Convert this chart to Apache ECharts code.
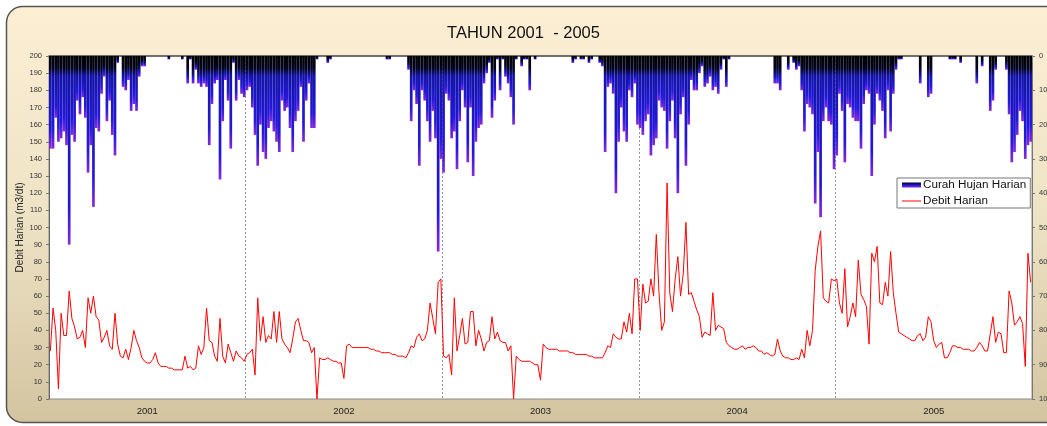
<!DOCTYPE html>
<html>
<head>
<meta charset="utf-8">
<script src="https://cdn.jsdelivr.net/npm/echarts@6/dist/echarts.min.js"></script>
<style>
  html, body { margin: 0; padding: 0; background: #ffffff; }
  #chart { width: 1047px; height: 426px; }
</style>
</head>
<body>
<div id="chart"></div>
<script>
// ---- DATA (5-day bins, 73 bins per year, 2001-2005) ----
const titleText = 'TAHUN 2001  - 2005';
const years = ['2001', '2002', '2003', '2004', '2005'];
const leftAxisName = 'Debit Harian (m3/dt)';
const rainName = 'Curah Hujan Harian';
const debitName = 'Debit Harian';

// Debit Harian (m3/dt), left axis
const debit = [
  28, 53, 40, 6, 50, 37, 37, 63, 47, 42,
  35, 36, 40, 30, 59, 50, 60, 48, 46, 33,
  36, 40, 31, 29, 50, 32, 25, 24, 29, 23,
  30, 40, 34, 30, 24, 22, 21, 21, 23, 27,
  21, 19, 19, 19, 18, 18, 17, 17, 17, 17,
  25, 18, 19, 17, 18, 31, 26, 30, 53, 34,
  33, 25, 22, 47, 25, 21, 32, 27, 22, 28,
  25, 24, 22, 26, 27, 29, 14, 59, 34, 48,
  33, 37, 35, 51, 33, 51, 35, 32, 30, 27,
  35, 45, 47, 40, 34, 34, 33, 27, 30, 0,
  24, 23, 23, 24, 23, 22, 22, 21, 21, 12,
  31, 32, 30, 30, 30, 30, 30, 30, 30, 29,
  29, 28, 28, 27, 27, 27, 27, 26, 26, 25,
  25, 25, 24, 27, 31, 30, 36, 38, 34, 35,
  40, 56, 47, 38, 68, 70, 25, 24, 26, 14,
  59, 28, 37, 47, 32, 33, 51, 51, 31, 40,
  35, 28, 33, 34, 48, 35, 39, 34, 33, 33,
  28, 31, 0, 25, 23, 22, 22, 22, 22, 21,
  20, 20, 11, 32, 30, 29, 29, 29, 29, 28,
  28, 28, 28, 27, 27, 26, 26, 26, 26, 26,
  25, 25, 24, 24, 24, 24, 27, 31, 30, 38,
  36, 35, 35, 45, 39, 50, 38, 70, 70, 40,
  67, 56, 57, 70, 60, 96, 62, 40, 45, 126,
  62, 51, 70, 83, 60, 73, 103, 61, 62, 57,
  52, 48, 36, 39, 38, 37, 62, 40, 43, 42,
  41, 33, 31, 30, 29, 29, 30, 31, 29, 30,
  30, 31, 30, 28, 28, 26, 27, 26, 25, 26,
  35, 28, 25, 24, 24, 23, 23, 24, 23, 29,
  24, 40, 31, 40, 75, 89, 98, 59, 57, 56,
  70, 69, 70, 56, 50, 76, 42, 48, 56, 48,
  81, 61, 58, 54, 32, 85, 80, 89, 56, 55,
  68, 60, 86, 62, 50, 39, 38, 37, 36, 35,
  34, 34, 37, 38, 34, 36, 48, 45, 34, 30,
  32, 33, 24, 24, 27, 31, 31, 30, 30, 29,
  29, 29, 28, 28, 30, 33, 31, 28, 28, 38,
  48, 33, 39, 38, 27, 27, 63, 56, 43, 45,
  48, 44, 19, 85, 68
];

// Curah Hujan Harian (mm), right axis (inverted)
const rain = [
  27, 27, 18, 25, 24, 22, 26, 55, 23, 25,
  13, 17, 12, 18, 34, 26, 44, 21, 22, 11,
  6, 19, 13, 23, 29, 2, 0, 9, 10, 7,
  16, 14, 16, 6, 3, 3, 0, 0, 0, 0,
  0, 0, 0, 0, 1, 0, 0, 0, 0, 1,
  0, 8, 1, 8, 4, 8, 9, 8, 9, 26,
  14, 8, 7, 36, 19, 7, 13, 27, 2, 13,
  7, 11, 12, 10, 9, 15, 23, 32, 20, 28,
  30, 21, 19, 22, 25, 28, 13, 16, 15, 21,
  28, 19, 16, 9, 25, 13, 8, 21, 21, 1,
  0, 0, 0, 2, 1, 0, 0, 0, 0, 0,
  0, 0, 0, 0, 0, 0, 0, 0, 0, 0,
  0, 0, 0, 0, 0, 1, 1, 0, 0, 0,
  0, 0, 0, 4, 19, 10, 14, 32, 10, 13,
  19, 25, 16, 24, 57, 30, 34, 11, 13, 24,
  22, 33, 19, 10, 15, 31, 15, 35, 25, 21,
  20, 8, 5, 2, 18, 13, 1, 10, 1, 6,
  8, 12, 20, 1, 0, 3, 1, 1, 10, 0,
  1, 0, 0, 0, 0, 0, 0, 0, 0, 0,
  0, 0, 0, 0, 2, 1, 0, 1, 1, 0,
  2, 1, 0, 0, 2, 3, 28, 9, 8, 11,
  40, 25, 15, 22, 25, 10, 12, 8, 20, 21,
  23, 19, 17, 29, 26, 24, 13, 15, 16, 27,
  19, 13, 24, 40, 17, 12, 32, 20, 7, 10,
  10, 5, 3, 9, 8, 6, 10, 9, 11, 4,
  1, 9, 1, 0, 0, 0, 0, 0, 0, 0,
  0, 0, 0, 0, 0, 0, 0, 0, 0, 8,
  8, 10, 0, 0, 4, 0, 2, 4, 3, 10,
  22, 14, 15, 17, 43, 28, 47, 19, 15, 19,
  20, 33, 29, 11, 16, 31, 14, 15, 18, 19,
  19, 27, 14, 10, 11, 35, 20, 11, 13, 16,
  24, 10, 22, 11, 4, 1, 1, 0, 0, 0,
  0, 0, 0, 8, 0, 0, 12, 11, 0, 0,
  0, 0, 0, 0, 1, 1, 1, 0, 2, 0,
  0, 0, 0, 0, 8, 0, 3, 0, 0, 16,
  13, 4, 0, 0, 0, 4, 17, 31, 28, 23,
  16, 19, 30, 26, 25
];

const bins = debit.map((_, i) => String(i));

// ---- CHART ----
const FONT = "'Liberation Sans', Arial, sans-serif";
const chart = echarts.init(document.getElementById('chart'), null, { renderer: 'canvas' });

const legendGradient = new echarts.graphic.LinearGradient(0, 0, 0, 1, [
  { offset: 0, color: '#000020' },
  { offset: 0.5, color: '#1a1ad0' },
  { offset: 1, color: '#8a2ad8' }
]);

// Per-bar gradient: dark band of roughly fixed depth at the top, purple tip.
const PX_PER_MM = 343 / 100;
function rainColor(params) {
  const h = Math.max(params.value * PX_PER_MM, 1);
  const f = Math.min(0.72, Math.max(0.08, 20 / h));
  return new echarts.graphic.LinearGradient(0, 0, 0, 1, [
    { offset: 0, color: '#000000' },
    { offset: f * 0.6, color: '#04041e' },
    { offset: f, color: '#1414a8' },
    { offset: Math.max(f + 0.02, 0.8), color: '#2418dc' },
    { offset: 1, color: '#8a2ad8' }
  ]);
}

const option = {
  animation: false,
  textStyle: { fontFamily: FONT },
  graphic: [{
    type: 'rect',
    z: -10,
    silent: true,
    shape: { x: 6.5, y: 6.5, width: 1100, height: 416, r: 16 },
    style: {
      fill: new echarts.graphic.LinearGradient(0, 0, 0, 1, [
        { offset: 0, color: '#fcefd4' },
        { offset: 0.5, color: '#efe3c6' },
        { offset: 1, color: '#d3c4a0' }
      ]),
      stroke: '#555555',
      lineWidth: 1.5
    }
  }],
  title: {
    text: titleText,
    left: 'center',
    top: 20,
    textStyle: { fontFamily: FONT, fontSize: 16.5, fontWeight: 'normal', color: '#111111' }
  },
  legend: {
    orient: 'vertical',
    left: 897,
    top: 178,
    padding: [1, 4, 1, 5],
    itemGap: 4,
    itemWidth: 19,
    itemHeight: 5,
    symbolKeepAspect: true,
    backgroundColor: '#ffffff',
    borderColor: '#777777',
    borderWidth: 1,
    borderRadius: 0,
    textStyle: { fontFamily: FONT, fontSize: 11.7, color: '#111111', padding: [0, 0, 0, -3] },
    data: [
      { name: rainName, icon: 'rect', itemStyle: { color: legendGradient } },
      { name: debitName, icon: 'path://M0,0L19,0L19,1L0,1Z' }
    ]
  },
  grid: {
    left: 49, right: 15, top: 56, bottom: 27,
    outerBoundsMode: 'none',
    containLabel: false,
    show: true,
    backgroundColor: '#ffffff',
    borderColor: '#8a8a8a',
    borderWidth: 1
  },
  xAxis: [
    {
      type: 'category',
      data: bins,
      boundaryGap: true,
      show: false
    },
    {
      type: 'category',
      data: years,
      boundaryGap: true,
      position: 'bottom',
      axisLine: { show: true, lineStyle: { color: '#555555', width: 1.5 } },
      axisTick: { show: true, length: 8, lineStyle: { color: '#888888', type: [2, 2] } },
      axisLabel: { fontFamily: FONT, fontSize: 9.5, color: '#222222', margin: 7 },
      splitLine: { show: true, lineStyle: { color: '#999999', width: 1, type: [2, 2] } }
    }
  ],
  yAxis: [
    {
      type: 'value',
      min: 0, max: 200, interval: 10,
      position: 'left',
      name: leftAxisName,
      nameLocation: 'middle',
      nameRotate: 90,
      nameGap: 24,
      nameMoveOverlap: false,
      nameTextStyle: { fontFamily: FONT, fontSize: 10, color: '#222222' },
      axisLine: { show: true, lineStyle: { color: '#666666', width: 1 } },
      axisTick: { show: true, length: 3, lineStyle: { color: '#777777' } },
      axisLabel: { fontFamily: FONT, fontSize: 7.5, color: '#333333', margin: 7 },
      splitLine: { show: false }
    },
    {
      type: 'value',
      min: 0, max: 100, interval: 10,
      inverse: true,
      position: 'right',
      axisLine: { show: true, lineStyle: { color: '#777777', width: 1 } },
      axisTick: { show: true, length: 3, lineStyle: { color: '#777777' } },
      axisLabel: { fontFamily: FONT, fontSize: 7.5, color: '#333333', margin: 7 },
      splitLine: { show: false }
    }
  ],
  series: [
    {
      name: rainName,
      type: 'bar',
      xAxisIndex: 0,
      yAxisIndex: 1,
      data: rain,
      barCategoryGap: '0%',
      itemStyle: { color: rainColor },
      z: 2
    },
    {
      name: debitName,
      type: 'line',
      xAxisIndex: 0,
      yAxisIndex: 0,
      data: debit,
      symbol: 'none',
      showSymbol: false,
      lineStyle: { color: '#ff0000', width: 1 },
      itemStyle: { color: '#ff0000' },
      z: 3
    }
  ]
};

chart.setOption(option);
</script>
</body>
</html>
